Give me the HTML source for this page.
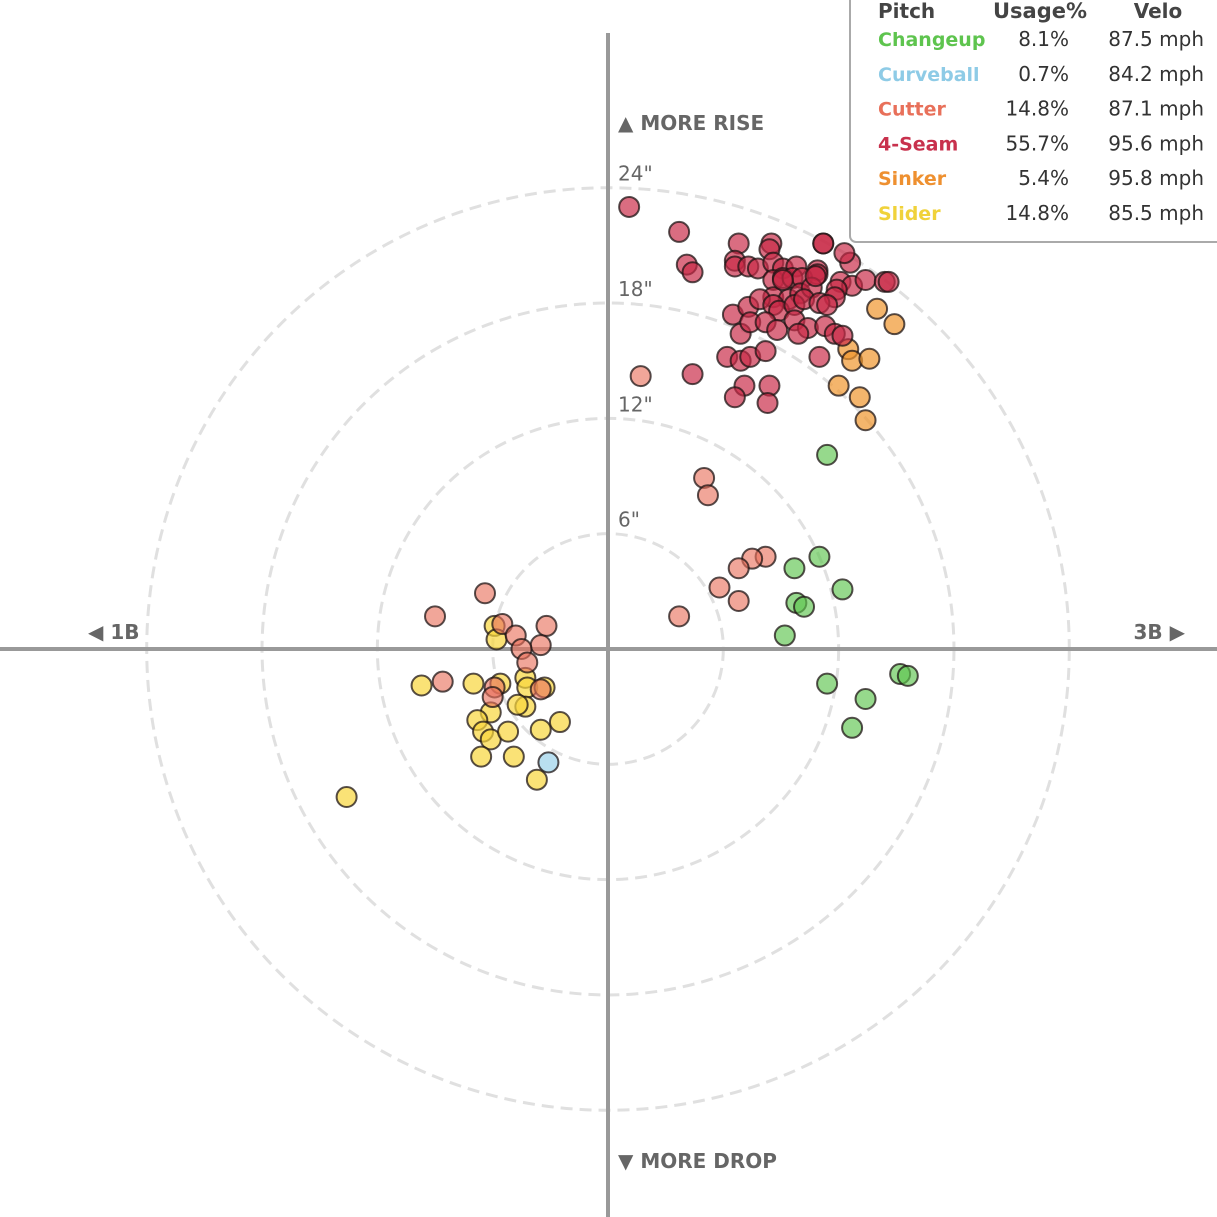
<!DOCTYPE html>
<html><head><meta charset="utf-8"><style>
body{margin:0;background:#fff;}
svg{display:block;font-family:"DejaVu Sans","Liberation Sans",sans-serif;}
</style></head><body>
<svg id="chart" width="1217" height="1217" viewBox="0 0 1217 1217">
<g id="rings"></g>
<line x1="0" y1="649" x2="1217" y2="649" stroke="#999" stroke-width="4"/>
<line x1="608" y1="33" x2="608" y2="1217" stroke="#999" stroke-width="4"/>
<g font-weight="bold" fill="#666" font-size="20">
<text x="618" y="130">▲ MORE RISE</text>
<text x="618" y="1168">▼ MORE DROP</text>
<text x="88" y="639">◀ 1B</text>
<text x="1185" y="639" text-anchor="end">3B ▶</text>
</g>
<g id="ringlabels" fill="#666" font-size="20"></g>
<g id="points"></g>
<g id="legend">
<rect x="850" y="-10" width="380" height="252" rx="6" fill="#fff" stroke="#aaa" stroke-width="2"/>
<g font-weight="bold" fill="#444" font-size="20">
<text x="878" y="18">Pitch</text>
<text x="1040" y="18" text-anchor="middle" font-size="21">Usage%</text>
<text x="1158" y="18" text-anchor="middle">Velo</text>
</g>
<g id="legrows" font-size="19"></g>
</g>
</svg>
<script>
const ringInches=[6,12,18,24];
const pitchNames=["Changeup","Curveball","Cutter","4-Seam","Sinker","Slider"];
const usage=["8.1%","0.7%","14.8%","55.7%","5.4%","14.8%"];
const velo=["87.5 mph","84.2 mph","87.1 mph","95.6 mph","95.8 mph","85.5 mph"];
const legendColors=["#5ec44e","#8ecbe6","#e8705a","#c8314d","#ee9030","#f0d23a"];
const fourSeam=[[1.1,23.0],[3.7,21.7],[4.1,20.0],[4.4,19.6],[6.8,21.1],[6.6,20.2],[6.6,19.9],[8.5,21.1],[8.4,20.8],[7.3,19.9],[7.8,19.8],[8.6,20.1],[9.1,19.8],[9.8,19.9],[10.9,19.7],[11.2,21.1],[12.6,20.1],[12.3,20.6],[8.6,19.2],[9.1,19.3],[9.6,19.3],[10.1,19.3],[10.9,19.5],[12.1,19.1],[12.7,18.9],[13.4,19.2],[14.4,19.1],[14.6,19.1],[8.6,18.3],[9.4,18.2],[10.0,18.5],[10.6,18.8],[11.9,18.7],[11.8,18.3],[6.5,17.4],[7.3,17.8],[7.9,18.2],[8.6,17.9],[8.9,17.6],[9.7,17.9],[10.2,18.2],[11.0,18.0],[11.4,17.9],[6.9,16.4],[7.4,17.0],[8.2,17.0],[8.8,16.6],[9.7,17.1],[10.4,16.7],[11.3,16.8],[11.8,16.4],[12.2,16.3],[6.2,15.2],[6.9,15.0],[7.4,15.2],[8.2,15.5],[9.9,16.4],[11.0,15.2],[4.4,14.3],[7.1,13.7],[8.4,13.7],[6.6,13.1],[8.3,12.8],[11.2,21.1],[9.1,19.2],[10.8,19.4]];
const sinker=[[14.0,17.7],[14.9,16.9],[12.5,15.6],[12.7,15.0],[13.6,15.1],[12.0,13.7],[13.1,13.1],[13.4,11.9]];
const changeup=[[11.4,10.1],[11.0,4.8],[9.7,4.2],[12.2,3.1],[9.8,2.4],[10.2,2.2],[9.2,0.7],[11.4,-1.8],[13.4,-2.6],[15.2,-1.3],[15.6,-1.4],[12.7,-4.1]];
const cutter=[[1.7,14.2],[5.0,8.9],[5.2,8.0],[8.2,4.8],[7.5,4.7],[6.8,4.2],[5.8,3.2],[6.8,2.5],[3.7,1.7],[-6.4,2.9],[-9.0,1.7],[-5.5,1.3],[-3.2,1.2],[-4.8,0.7],[-3.5,0.2],[-4.5,0.0],[-4.2,-0.7],[-8.6,-1.7],[-5.9,-2.0],[-6.0,-2.5],[-3.5,-2.1]];
const slider=[[-5.9,1.2],[-5.8,0.5],[-9.7,-1.9],[-7.0,-1.8],[-5.6,-1.8],[-4.3,-1.5],[-4.2,-2.0],[-3.3,-2.0],[-4.3,-3.0],[-4.7,-2.9],[-6.1,-3.3],[-6.8,-3.7],[-6.5,-4.3],[-6.1,-4.7],[-5.2,-4.3],[-2.5,-3.8],[-3.5,-4.2],[-6.6,-5.6],[-4.9,-5.6],[-3.7,-6.8],[-13.6,-7.7]];
const curveball=[[-3.1,-5.9]];

const NS="http://www.w3.org/2000/svg";
const cx=608,cy=649,scale=19.22;
const X=v=>cx+v*scale, Y=v=>cy-v*scale;
const rings=document.getElementById('rings'), rl=document.getElementById('ringlabels');
ringInches.forEach(r=>{
  const c=document.createElementNS(NS,'circle');
  c.setAttribute('cx',cx);c.setAttribute('cy',cy);c.setAttribute('r',r*scale);
  c.setAttribute('fill','none');c.setAttribute('stroke','#e0e0e0');c.setAttribute('stroke-width','3');c.setAttribute('stroke-dasharray','12 7');
  
  
  rings.appendChild(c);
  const t=document.createElementNS(NS,'text');
  t.setAttribute('x',618);t.setAttribute('y',Y(r)-7);t.textContent=r+'"';
  
  
  rl.appendChild(t);
});
const pts=document.getElementById('points');
function draw(arr,fill,name){
  arr.forEach(p=>{
    const c=document.createElementNS(NS,'circle');
    c.setAttribute('cx',X(p[0]));c.setAttribute('cy',Y(p[1]));c.setAttribute('r',10);
    c.setAttribute('fill',fill);c.setAttribute('stroke','rgba(30,20,20,0.75)');c.setAttribute('stroke-width','2');
    
    
    pts.appendChild(c);
  });
}
draw(slider,'rgba(248,214,60,0.7)','slider-point');
draw(cutter,'rgba(232,112,90,0.62)','cutter-point');
draw(curveball,'rgba(142,203,230,0.62)','curveball-point');
draw(changeup,'rgba(94,196,78,0.65)','changeup-point');
draw(sinker,'rgba(240,150,45,0.7)','sinker-point');
draw(fourSeam,'rgba(200,40,70,0.68)','four-seam-point');
const lr=document.getElementById('legrows');
pitchNames.forEach((n,i)=>{
  const y=46+i*34.8;
  const a=document.createElementNS(NS,'text');
  a.setAttribute('x',878);a.setAttribute('y',y);a.setAttribute('fill',legendColors[i]);a.setAttribute('font-weight','bold');a.textContent=n;
  
  
  lr.appendChild(a);
  const b=document.createElementNS(NS,'text');
  b.setAttribute('x',1069);b.setAttribute('y',y);b.setAttribute('fill','#333');b.setAttribute('font-size','20');b.setAttribute('text-anchor','end');b.textContent=usage[i];
  
  
  lr.appendChild(b);
  const c=document.createElementNS(NS,'text');
  c.setAttribute('x',1204);c.setAttribute('y',y);c.setAttribute('fill','#333');c.setAttribute('font-size','20');c.setAttribute('text-anchor','end');c.textContent=velo[i];
  
  
  lr.appendChild(c);
});
</script>
</body></html>
